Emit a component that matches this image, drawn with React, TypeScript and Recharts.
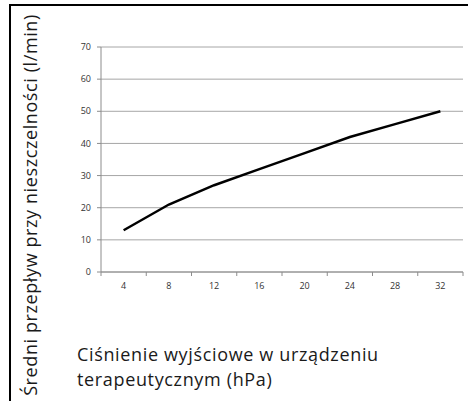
import { LineChart, Line, XAxis, YAxis, CartesianGrid } from "recharts";

const pressures = ["4", "8", "12", "16", "20", "24", "28", "32"];
const leakFlow = [13, 21, 27, 32, 37, 42, 46, 50];
const yTicks = [0, 10, 20, 30, 40, 50, 60, 70];

const yTitle = "Średni przepływ przy nieszczelności (l/min)";
const xTitleLines = ["Ciśnienie wyjściowe w urządzeniu", "terapeutycznym (hPa)"];

const W = 468;
const H = 401;
const PLOT_LEFT = 101;
const PLOT_RIGHT = 463;
const AXIS_Y = 272;
const BAND = (PLOT_RIGHT - PLOT_LEFT) / pressures.length;
const FONT = "'Open Sans', 'Noto Sans', sans-serif";
const AXIS_GRAY = "#8c8c8c";

const data = pressures.map((p, i) => ({ p, flow: leakFlow[i] }));

function XTick(props: any) {
  const { x, index, payload } = props;
  const last = index === pressures.length - 1;
  return (
    <g>
      <line x1={x - BAND / 2} x2={x - BAND / 2} y1={AXIS_Y} y2={AXIS_Y + 4} stroke={AXIS_GRAY} />
      {last && <line x1={x + BAND / 2} x2={x + BAND / 2} y1={AXIS_Y} y2={AXIS_Y + 4} stroke={AXIS_GRAY} />}
      <text x={x} y={AXIS_Y + 17} textAnchor="middle" fontSize={9} fill="#333" fontFamily={FONT}>
        {payload.value}
      </text>
    </g>
  );
}

export default function App() {
  return (
    <div style={{ position: "absolute", left: 0, top: 0, width: W, height: H, background: "#fff" }}>
      <div
        style={{
          position: "absolute",
          left: 9,
          top: 4,
          right: 0,
          bottom: 0,
          borderTop: "2px solid #000",
          borderLeft: "2px solid #000",
        }}
      />
      <LineChart
        width={W}
        height={H}
        data={data}
        margin={{ top: 47, right: W - PLOT_RIGHT, bottom: 0, left: 0 }}
        style={{ position: "absolute", left: 0, top: 0 }}
      >
        <CartesianGrid vertical={false} stroke="#a6a6a6" />
        <XAxis
          dataKey="p"
          scale="band"
          height={H - AXIS_Y}
          axisLine={{ stroke: AXIS_GRAY }}
          tickLine={false}
          tick={<XTick />}
          interval={0}
          label={{
            content: () => (
              <g>
                {xTitleLines.map((l, i) => (
                  <text
                    key={i}
                    x={77}
                    y={361 + i * 24.5}
                    fontSize={18}
                    letterSpacing={0.65}
                    fill="#1a1a1a"
                    fontFamily={FONT}
                  >
                    {l}
                  </text>
                ))}
              </g>
            ),
          }}
        />
        <YAxis
          width={PLOT_LEFT}
          domain={[0, 70]}
          ticks={yTicks}
          interval={0}
          axisLine={{ stroke: AXIS_GRAY }}
          tickLine={{ stroke: AXIS_GRAY }}
          tickSize={4}
          tickMargin={6}
          tick={{ fontSize: 9, fill: "#333", fontFamily: FONT }}
          label={{
            content: () => (
              <text
                x={30}
                y={205}
                transform="rotate(-90 30 205)"
                textAnchor="middle"
                dominantBaseline="central"
                fontSize={18}
                letterSpacing={0.6}
                fill="#1a1a1a"
                fontFamily={FONT}
              >
                {yTitle}
              </text>
            ),
          }}
        />
        <Line
          dataKey="flow"
          type="linear"
          stroke="#000"
          strokeWidth={2.5}
          dot={false}
          isAnimationActive={false}
        />
      </LineChart>
    </div>
  );
}
